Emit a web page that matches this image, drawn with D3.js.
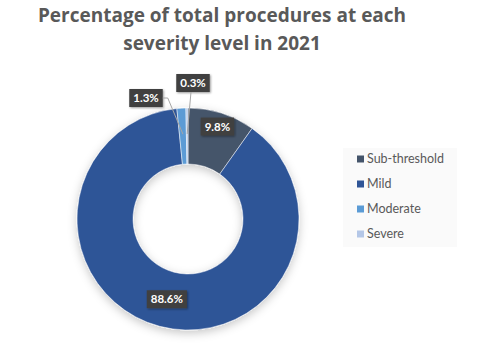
<!DOCTYPE html>
<html>
<head>
<meta charset="utf-8">
<script src="https://cdn.jsdelivr.net/npm/d3@7"></script>
<style>
  body { margin: 0; background: #fff; }
  svg { display: block; }
</style>
</head>
<body>
<div id="chart"></div>
<script>
// data
const categories = ["Sub-threshold", "Mild", "Moderate", "Severe"];
const values = [9.8, 88.6, 1.3, 0.3];
const labels = ["9.8%", "88.6%", "1.3%", "0.3%"];
const colors = ["#44546A", "#2F5597", "#5B9BD5", "#B4C7E7"];

var width = 480, height = 351;
var cx = 188, cy = 219, outerR = 111, innerR = 55;

var svg = d3.select("#chart").append("svg")
  .attr("width", width)
  .attr("height", height);

var defs = svg.append("defs");
defs.append("filter").attr("id", "shadow")
  .attr("x", "-30%").attr("y", "-30%").attr("width", "160%").attr("height", "160%")
  .append("feDropShadow")
  .attr("dx", 0).attr("dy", 3).attr("stdDeviation", 5)
  .attr("flood-color", "#000").attr("flood-opacity", 0.22);
defs.append("filter").attr("id", "boxshadow")
  .attr("x", "-30%").attr("y", "-30%").attr("width", "160%").attr("height", "160%")
  .append("feDropShadow")
  .attr("dx", 1).attr("dy", 1).attr("stdDeviation", 1.2)
  .attr("flood-color", "#000").attr("flood-opacity", 0.4);

// title
var title = svg.append("text")
  .attr("x", 222)
  .attr("text-anchor", "middle")
  .style("font-family", "'Open Sans', Lato, sans-serif")
  .style("font-weight", "bold")
  .style("font-size", "19px")
  .style("fill", "#595959");
title.append("tspan").attr("x", 222).attr("y", 22).text("Percentage of total procedures at each");
title.append("tspan").attr("x", 222).attr("y", 50).text("severity level in 2021");

// donut
var pie = d3.pie().sort(null).value(d => d);
var arcs = pie(values);
var arc = d3.arc().innerRadius(innerR).outerRadius(outerR);

var g = svg.append("g").attr("transform", "translate(" + cx + "," + cy + ")");

g.append("g")
  .attr("filter", "url(#shadow)")
  .selectAll("path")
  .data(arcs)
  .enter()
  .append("path")
  .attr("d", arc)
  .style("fill", (d, i) => colors[i])
  .style("stroke", "#fff")
  .style("stroke-width", 0.5);

// label positions (relative to donut center); inner ones from arcs, outer ones boxed outside
var labelArc = {
  0: d3.arc().innerRadius(97).outerRadius(97),
  1: d3.arc().innerRadius(83).outerRadius(83)
};
var outside = { 2: [-42, -121], 3: [5, -136] };
var leaderArc = d3.arc().innerRadius(85).outerRadius(85);

arcs.forEach(function (d, i) {
  var pos = labelArc[i] ? labelArc[i].centroid(d) : outside[i];
  var lg = g.append("g").attr("transform", "translate(" + pos[0] + "," + pos[1] + ")");
  var t = lg.append("text")
    .attr("text-anchor", "middle")
    .attr("dy", "0.36em")
    .style("font-family", "Lato, 'Open Sans', sans-serif")
    .style("font-weight", "bold")
    .style("font-size", "11.5px")
    .style("fill", "#fff")
    .text(labels[i]);
  var w = t.node().getComputedTextLength() + 8, h = 18;
  lg.insert("rect", "text")
    .attr("x", -w / 2).attr("y", -h / 2)
    .attr("width", w).attr("height", h)
    .attr("filter", "url(#boxshadow)")
    .style("fill", "#404040");

  if (outside[i]) {
    var end = leaderArc.centroid(d);
    var pts;
    if (i === 2) {
      pts = [[pos[0] + w / 2, pos[1]], [pos[0] + w / 2 + 5, pos[1]], end];
    } else {
      pts = [[pos[0] - 2, pos[1] + h / 2], end];
    }
    g.append("path")
      .attr("d", d3.line()(pts))
      .style("fill", "none")
      .style("stroke", "#a6a6a6")
      .style("stroke-width", 1);
  }
});

// legend
var legend = svg.append("g");
legend.append("rect")
  .attr("x", 343).attr("y", 148)
  .attr("width", 114).attr("height", 99)
  .style("fill", "#fafafa");

var item = legend.selectAll(".item")
  .data(categories)
  .enter()
  .append("g")
  .attr("transform", (d, i) => "translate(357," + (159 + i * 25) + ")");
item.append("rect")
  .attr("x", 0).attr("y", -3.5)
  .attr("width", 7).attr("height", 7)
  .style("fill", (d, i) => colors[i]);
item.append("text")
  .attr("x", 10).attr("dy", "0.35em")
  .style("font-family", "Lato, 'Open Sans', sans-serif")
  .style("font-size", "12.5px")
  .style("fill", "#595959")
  .text(d => d);
</script>
</body>
</html>
